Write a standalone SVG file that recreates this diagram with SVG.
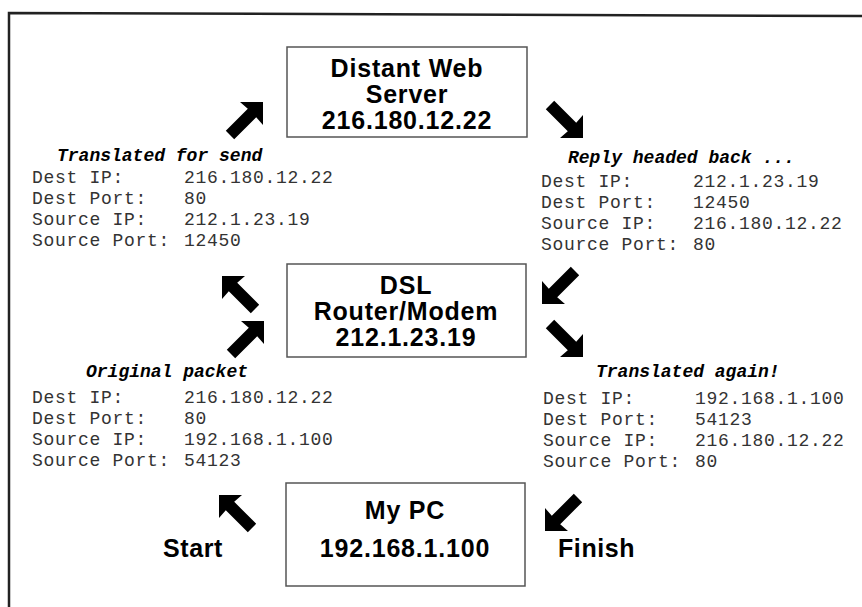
<svg xmlns="http://www.w3.org/2000/svg" width="862" height="607" viewBox="0 0 862 607">
<style>
.box{fill:#fff;stroke:#555;stroke-width:1.5}
.bt{font-family:"Liberation Sans",Arial,sans-serif;font-weight:bold;font-size:25px;letter-spacing:0.8px;fill:#000;text-anchor:middle}
.lbl{font-family:"Liberation Sans",Arial,sans-serif;font-weight:bold;font-size:25px;letter-spacing:0.6px;fill:#000}
.hd{font-family:"Liberation Mono","Courier New",monospace;font-weight:bold;font-style:italic;font-size:18px;fill:#000}
.mn{font-family:"Liberation Mono","Courier New",monospace;font-size:18px;letter-spacing:0.7px;fill:#333}
.arr{fill:#000}
.frame{stroke:#222;stroke-width:2.5;fill:none}
</style>
<defs>
<path id="ne" d="M0,0 L-23,0 L-15.2,6.8 L-37.2,28.8 L-28.8,37.2 L-6.8,15.2 L0,23 Z"/>
</defs>
<rect width="862" height="607" fill="#fff"/>
<path class="frame" d="M9,607 L9,13 L862,16"/>

<g id="server">
<rect class="box" x="287" y="47" width="240" height="90"/>
<text class="bt" x="407" y="77">Distant Web</text>
<text class="bt" x="407" y="103">Server</text>
<text class="bt" x="407" y="129">216.180.12.22</text>
</g>
<g id="router">
<rect class="box" x="287" y="264" width="239" height="93"/>
<text class="bt" x="406" y="294">DSL</text>
<text class="bt" x="406" y="320">Router/Modem</text>
<text class="bt" x="406" y="346">212.1.23.19</text>
</g>
<g id="pc">
<rect class="box" x="286" y="483" width="239" height="103"/>
<text class="bt" x="405" y="519">My PC</text>
<text class="bt" x="405" y="557">192.168.1.100</text>
</g>

<g id="start"><text class="lbl" x="163" y="557">Start</text></g>
<g id="finish"><text class="lbl" x="558" y="557">Finish</text></g>

<g id="pkt-send">
<text class="hd" x="57" y="161">Translated for send</text>
<text class="mn" y="183"><tspan x="32">Dest IP:</tspan><tspan x="184">216.180.12.22</tspan></text>
<text class="mn" y="204"><tspan x="32">Dest Port:</tspan><tspan x="184">80</tspan></text>
<text class="mn" y="225"><tspan x="32">Source IP:</tspan><tspan x="184">212.1.23.19</tspan></text>
<text class="mn" y="246"><tspan x="32">Source Port:</tspan><tspan x="184">12450</tspan></text>
</g>
<g id="pkt-reply">
<text class="hd" x="568" y="163">Reply headed back ...</text>
<text class="mn" y="187"><tspan x="541">Dest IP:</tspan><tspan x="693">212.1.23.19</tspan></text>
<text class="mn" y="208"><tspan x="541">Dest Port:</tspan><tspan x="693">12450</tspan></text>
<text class="mn" y="229"><tspan x="541">Source IP:</tspan><tspan x="693">216.180.12.22</tspan></text>
<text class="mn" y="250"><tspan x="541">Source Port:</tspan><tspan x="693">80</tspan></text>
</g>
<g id="pkt-original">
<text class="hd" x="86" y="377">Original packet</text>
<text class="mn" y="403"><tspan x="32">Dest IP:</tspan><tspan x="184">216.180.12.22</tspan></text>
<text class="mn" y="424"><tspan x="32">Dest Port:</tspan><tspan x="184">80</tspan></text>
<text class="mn" y="445"><tspan x="32">Source IP:</tspan><tspan x="184">192.168.1.100</tspan></text>
<text class="mn" y="466"><tspan x="32">Source Port:</tspan><tspan x="184">54123</tspan></text>
</g>
<g id="pkt-again">
<text class="hd" x="596" y="377">Translated again!</text>
<text class="mn" y="404"><tspan x="543">Dest IP:</tspan><tspan x="695">192.168.1.100</tspan></text>
<text class="mn" y="425"><tspan x="543">Dest Port:</tspan><tspan x="695">54123</tspan></text>
<text class="mn" y="446"><tspan x="543">Source IP:</tspan><tspan x="695">216.180.12.22</tspan></text>
<text class="mn" y="467"><tspan x="543">Source Port:</tspan><tspan x="695">80</tspan></text>
</g>

<g id="connectors" class="arr">
<use href="#ne" transform="translate(263,102)"/>
<use href="#ne" transform="translate(583,138) rotate(90)"/>
<use href="#ne" transform="translate(222,276) rotate(270)"/>
<use href="#ne" transform="translate(264,321)"/>
<use href="#ne" transform="translate(542,304) rotate(180)"/>
<use href="#ne" transform="translate(583,357) rotate(90)"/>
<use href="#ne" transform="translate(219,495) rotate(270)"/>
<use href="#ne" transform="translate(545,531) rotate(180)"/>
</g>
</svg>
